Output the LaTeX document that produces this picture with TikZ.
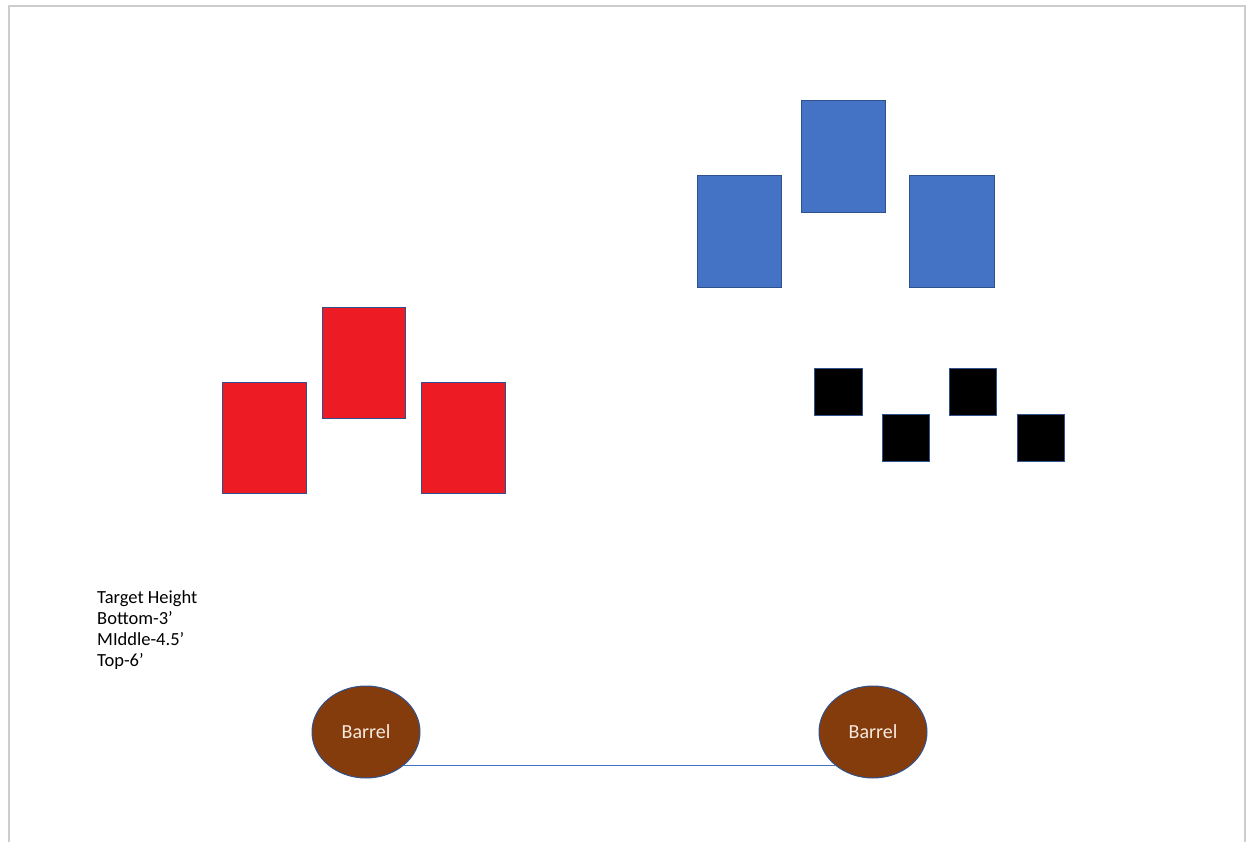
\documentclass[tikz,border=0pt]{standalone}
\usepackage{fontspec}
\setmainfont{Carlito}
\usetikzlibrary{shapes.geometric}
\definecolor{redfill}{HTML}{ED1C24}
\definecolor{bluefill}{HTML}{4472C4}
\definecolor{edgeblue}{HTML}{2F528F}
\definecolor{barrelbrown}{HTML}{843C0C}
\definecolor{barreltext}{HTML}{F6EADF}
\definecolor{framegray}{HTML}{CDCDCD}
\tikzset{
  redbox/.style={draw=edgeblue, line width=0.8pt, fill=redfill},
  bluebox/.style={draw=edgeblue, line width=0.8pt, fill=bluefill},
  blackbox/.style={draw=edgeblue, line width=0.6pt, fill=black},
  barrel/.style={ellipse, draw=edgeblue, line width=1pt, fill=barrelbrown,
    minimum width=108pt, minimum height=92pt, inner sep=0pt,
    text=barreltext, font=\fontsize{20pt}{24pt}\selectfont},
  infotext/.style={anchor=base west, inner sep=0pt, font=\fontsize{18.5pt}{21pt}\selectfont},
  link/.style={draw=bluefill, line width=1.1pt}
}
\begin{document}
\begin{tikzpicture}[x=1pt,y=-1pt]
\useasboundingbox (0,0) rectangle (1253,842);
% page frame
\draw[framegray, line width=2pt] (9,842) -- (9,6) -- (1245,6) -- (1245,842);
% red targets
\path[redbox] (222,382) rectangle (306,493);
\path[redbox] (322,307) rectangle (405,418);
\path[redbox] (421,382) rectangle (505,493);
% blue targets
\path[bluebox] (697,175) rectangle (781,287);
\path[bluebox] (801,100) rectangle (885,212);
\path[bluebox] (909,175) rectangle (994,287);
% black targets
\path[blackbox] (814,368) rectangle (862,415);
\path[blackbox] (882,414) rectangle (929,461);
\path[blackbox] (949,368) rectangle (996,415);
\path[blackbox] (1017,414) rectangle (1064,461);
% text
\node[infotext] (t1) at (97,603) {Target Height};
\node[infotext] (t2) at (97,624) {Bottom-3’};
\node[infotext] (t3) at (97,645) {MIddle-4.5’};
\node[infotext] (t4) at (97,666) {Top-6’};
% barrels
\node[barrel] (lb) at (366,732) {Barrel};
\node[barrel] (rb) at (873,732) {Barrel};
\draw[link] (lb.-42) -- (rb.-138);
\end{tikzpicture}
\end{document}
